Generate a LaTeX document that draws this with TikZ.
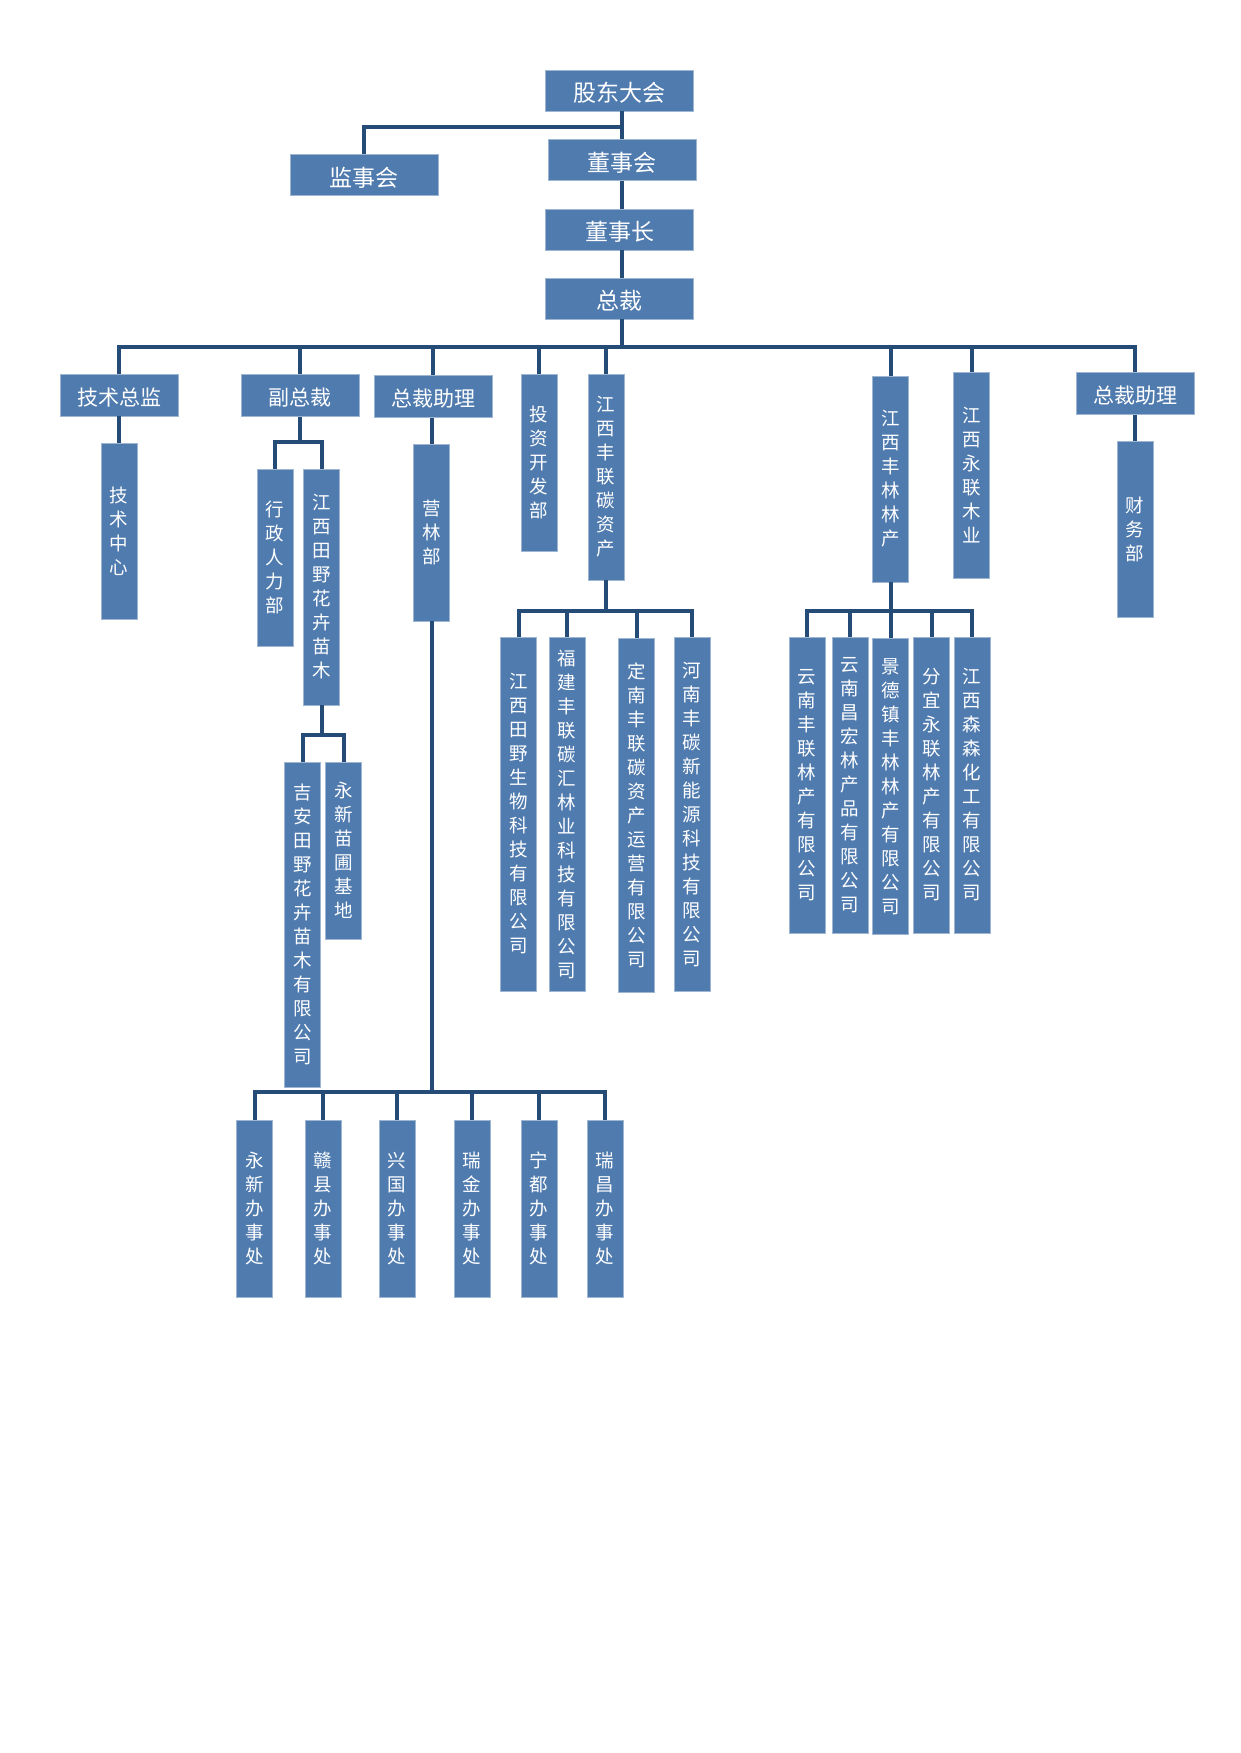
\documentclass[tikz,border=0pt]{standalone}
\usepackage{fontspec}
\newfontfamily\cjk{Noto Sans CJK SC}
\definecolor{boxblue}{RGB}{80,123,175}
\definecolor{linkblue}{RGB}{36,76,118}
\ExplSyntaxOn
\NewDocumentCommand\vtxt{m}{
  \seq_clear:N \l_tmpa_seq
  \tl_map_inline:nn {#1} { \seq_put_right:Nn \l_tmpa_seq {##1} }
  \seq_use:Nn \l_tmpa_seq {\\}
}
\ExplSyntaxOff
\tikzset{
  hbox/.style={fill=boxblue, draw=boxblue!55!white, line width=0.8pt, text=white,
    inner sep=0pt, minimum width=148pt, minimum height=41pt,
    text height=22.4pt, text depth=0pt,
    font=\cjk\fontsize{23}{26}\selectfont},
  mbox/.style={hbox, minimum width=118pt, minimum height=42pt,
    text height=20pt, text depth=0pt,
    font=\cjk\fontsize{21}{24}\selectfont},
  vbox/.style={fill=boxblue, draw=boxblue!55!white, line width=0.8pt, text=white,
    inner sep=0pt, minimum width=36pt, align=center,
    font=\cjk\fontsize{18.5}{24}\selectfont},
  conn/.style={draw=linkblue, line width=4pt}
}
\begin{document}
\begin{tikzpicture}[x=1pt,y=-1pt]
\useasboundingbox[fill=white] (0,0) rectangle (1240,1753);

% top chain
\node[hbox] (gd)  at (619.5,90.5) {股东大会};
\node[hbox] (jsh) at (364,175)    {监事会};
\node[hbox] (dsh) at (622,160)    {董事会};
\node[hbox] (dsz) at (619.5,229.5){董事长};
\node[hbox] (zc)  at (619.5,298.5){总裁};

% level 2
\node[mbox] (jszj) at (119,395)    {技术总监};
\node[mbox] (fzc)  at (300,395.5)  {副总裁};
\node[mbox] (zl1)  at (433,396.5)  {总裁助理};
\node[mbox] (zl2)  at (1135,393.5) {总裁助理};
\node[vbox,minimum height=177pt] (tz)  at (539,462.5) {\vtxt{投资开发部}};
\node[vbox,minimum height=206pt] (flt) at (606,477)   {\vtxt{江西丰联碳资产}};
\node[vbox,minimum height=206pt] (fll) at (890.5,479) {\vtxt{江西丰林林产}};
\node[vbox,minimum height=206pt] (yl)  at (971.5,475) {\vtxt{江西永联木业}};

% level 3
\node[vbox,minimum height=176pt] (jszx) at (119,531)    {\vtxt{技术中心}};
\node[vbox,minimum height=177pt] (xzrl) at (275,557.5)  {\vtxt{行政人力部}};
\node[vbox,minimum height=236pt] (tyhh) at (321.5,587)  {\vtxt{江西田野花卉苗木}};
\node[vbox,minimum height=177pt] (ylb)  at (431.5,532.5){\vtxt{营林部}};
\node[vbox,minimum height=176pt] (cwb)  at (1135,529)   {\vtxt{财务部}};

% level 4
\node[vbox,minimum height=325pt] (ja)   at (302.5,924.5) {\vtxt{吉安田野花卉苗木有限公司}};
\node[vbox,minimum height=177pt] (yxmp) at (343.5,850.5) {\vtxt{永新苗圃基地}};
\node[vbox,minimum height=354pt] (tysw) at (518.5,814)   {\vtxt{江西田野生物科技有限公司}};
\node[vbox,minimum height=354pt] (fj)   at (567,814)     {\vtxt{福建丰联碳汇林业科技有限公司}};
\node[vbox,minimum height=354pt] (dn)   at (636.5,815)   {\vtxt{定南丰联碳资产运营有限公司}};
\node[vbox,minimum height=354pt] (hn)   at (692,814.5)   {\vtxt{河南丰碳新能源科技有限公司}};
\node[vbox,minimum height=296pt] (yn)   at (807,785)     {\vtxt{云南丰联林产有限公司}};
\node[vbox,minimum height=296pt] (ch)   at (850,785)     {\vtxt{云南昌宏林产品有限公司}};
\node[vbox,minimum height=296pt] (jdz)  at (890.5,786.5) {\vtxt{景德镇丰林林产有限公司}};
\node[vbox,minimum height=296pt] (fy)   at (931.5,785)   {\vtxt{分宜永联林产有限公司}};
\node[vbox,minimum height=296pt] (ss)   at (972,785)     {\vtxt{江西森森化工有限公司}};

% level 5 offices
\node[vbox,minimum height=177pt] (o1) at (254.5,1208.5) {\vtxt{永新办事处}};
\node[vbox,minimum height=177pt] (o2) at (323,1208.5)   {\vtxt{赣县办事处}};
\node[vbox,minimum height=177pt] (o3) at (397,1208.5)   {\vtxt{兴国办事处}};
\node[vbox,minimum height=177pt] (o4) at (472,1208.5)   {\vtxt{瑞金办事处}};
\node[vbox,minimum height=177pt] (o5) at (539,1208.5)   {\vtxt{宁都办事处}};
\node[vbox,minimum height=177pt] (o6) at (605,1208.5)   {\vtxt{瑞昌办事处}};

% connectors
\coordinate (tr) at (622,0);
\coordinate (b0) at (622,127);
\draw[conn] (gd.south -| tr) -- (dsh.north -| tr);
\draw[conn] (jsh.north) |- (b0);
\draw[conn] (dsh.south -| tr) -- (dsz.north -| tr);
\draw[conn] (dsz.south -| tr) -- (zc.north -| tr);

\coordinate (b1) at (622,347);
\draw[conn] (zc.south -| tr) -- (b1);
\draw[conn] (jszj.north) |- (b1) -| (zl2.north);
\foreach \n in {fzc,zl1,tz,flt,fll,yl} \draw[conn] (\n.north) -- (\n.north |- b1);

\draw[conn] (jszx.north) -- (jszx.north |- jszj.south);
\coordinate (b2) at (300,442);
\draw[conn] (fzc.south) -- (b2);
\draw[conn] (xzrl.north) |- (b2) -| (tyhh.north);
\draw[conn] (ylb.north) -- (ylb.north |- zl1.south);
\draw[conn] (cwb.north) -- (cwb.north |- zl2.south);

\coordinate (b3) at (321.5,735);
\draw[conn] (tyhh.south) -- (b3);
\draw[conn] (ja.north) |- (b3) -| (yxmp.north);

\coordinate (b4) at (606,611);
\draw[conn] (flt.south) -- (b4);
\draw[conn] (tysw.north) |- (b4) -| (hn.north);
\foreach \n in {fj,dn} \draw[conn] (\n.north) -- (\n.north |- b4);

\coordinate (b5) at (890.5,611);
\draw[conn] (fll.south) -- (b5);
\draw[conn] (yn.north) |- (b5) -| (ss.north);
\foreach \n in {ch,jdz,fy} \draw[conn] (\n.north) -- (\n.north |- b5);

\coordinate (b6) at (431.5,1092);
\draw[conn] (ylb.south) -- (b6);
\draw[conn] (o1.north) |- (b6) -| (o6.north);
\foreach \n in {o2,o3,o4,o5} \draw[conn] (\n.north) -- (\n.north |- b6);
\end{tikzpicture}
\end{document}
